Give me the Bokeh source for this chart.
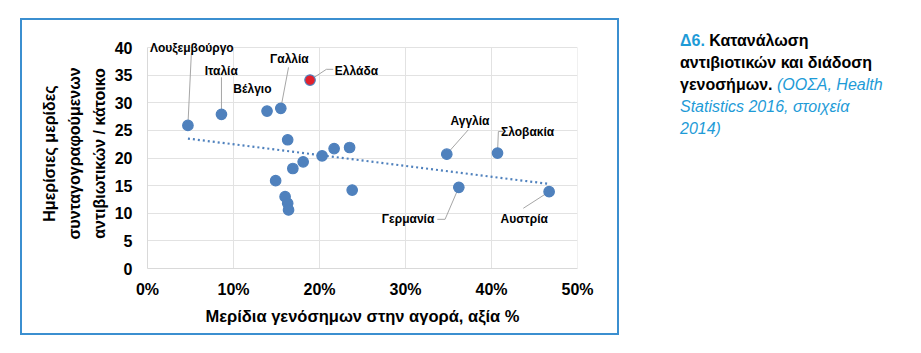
import numpy as np
from bokeh.plotting import figure
from bokeh.layouts import row
from bokeh.models import Range1d, Label, FixedTicker, PrintfTickFormatter, Div
from bokeh.embed import file_html
from bokeh.resources import INLINE

# ---- data ----
generic_share = [4.7, 8.6, 13.9, 15.5, 18.9, 16.3, 21.7, 23.5, 14.9, 16.0,
                 16.3, 16.4, 16.9, 18.1, 20.3, 23.8, 34.8, 40.7, 36.2, 46.7]
daily_doses = [25.9, 27.9, 28.5, 29.0, 34.1, 23.3, 21.7, 21.9, 15.9, 13.0,
               11.8, 10.6, 18.1, 19.3, 20.4, 14.2, 20.7, 20.9, 14.7, 13.9]
country = ["Λουξεμβούργο", "Ιταλία", "Βέλγιο", "Γαλλία", "Ελλάδα", "", "", "", "", "",
           "", "", "", "", "", "", "Αγγλία", "Σλοβακία", "Γερμανία", "Αυστρία"]
highlight = "Ελλάδα"
x_ticks = [0, 10, 20, 30, 40, 50]
y_ticks = [0, 5, 10, 15, 20, 25, 30, 35, 40]

x_title = "Μερίδια γενόσημων στην αγορά, αξία %"
y_title = "Ημερίσιες μερίδες\nσυνταγογραφούμενων\nαντιβιωτικών / κάτοικο"

# label layout: text centre (data units) and leader-line elbow points
label_pos = {
    "Λουξεμβούργο": ((5.15, 39.85), [(5.1, 39.0)]),
    "Ιταλία": ((8.57, 35.7), [(8.6, 34.6)]),
    "Βέλγιο": ((12.2, 32.4), []),
    "Γαλλία": ((16.5, 37.9), [(16.4, 36.4)]),
    "Ελλάδα": ((24.3, 35.8), [(21.6, 36.05), (20.8, 36.05)]),
    "Αγγλία": ((37.5, 26.7), [(37.3, 25.1)]),
    "Σλοβακία": ((44.2, 24.7), [(41.4, 24.8), (40.8, 24.8)]),
    "Γερμανία": ((30.3, 8.9), [(33.7, 8.9), (34.6, 8.9)]),
    "Αυστρία": ((43.8, 8.9), [(43.7, 10.9)]),
}

FONT = "Liberation Sans"
BLUE = "#4F81BD"
TITLE_BLUE = "#1E9BD7"
GRID = "#e2e2e2"

PW, PH = 595, 313
p = figure(width=PW, height=PH, output_backend="svg", toolbar_location=None,
           x_range=Range1d(0, 50), y_range=Range1d(0, 40 * 230 / 221),
           min_border_left=125, min_border_right=40, min_border_top=18, min_border_bottom=65)
p.margin = (20, 0, 0, 22)
p.styles = {"outline": "2.5px solid #3B8FD0"}
p.outline_line_color = None
p.background_fill_color = "white"
p.border_fill_color = "white"

for ax in (p.xaxis[0], p.yaxis[0]):
    ax.axis_line_color = "#d9d9d9"
    ax.major_tick_line_color = None
    ax.minor_tick_line_color = None
    ax.major_label_text_font = FONT
    ax.major_label_text_font_style = "bold"
    ax.major_label_text_font_size = "16px"
    ax.major_label_text_color = "#000000"
    ax.axis_label_text_font = FONT
    ax.axis_label_text_font_style = "bold"
    ax.axis_label_text_font_size = "16px"
    ax.axis_label_text_color = "#000000"
p.yaxis.axis_label_text_line_height = 1.45
p.xaxis.axis_label_text_font_size = "16.5px"
p.xaxis.ticker = FixedTicker(ticks=x_ticks)
p.yaxis.ticker = FixedTicker(ticks=y_ticks)
p.yaxis.bounds = (0, 40)
p.xaxis.formatter = PrintfTickFormatter(format="%d%%")
p.xaxis.major_label_standoff = 6
p.yaxis.major_label_standoff = 9
p.xaxis.axis_label = x_title
p.yaxis.axis_label = y_title
p.xaxis.axis_label_standoff = 6
p.yaxis.axis_label_standoff = 4
p.xgrid.visible = False
p.ygrid.ticker = FixedTicker(ticks=y_ticks)
p.ygrid.grid_line_color = GRID
# vertical grid lines limited to the 0-40 value range (also forms right border)
p.segment(x0=x_ticks, y0=[y_ticks[0]] * len(x_ticks), x1=x_ticks, y1=[y_ticks[-1]] * len(x_ticks),
          line_color=GRID, line_width=1)

# trend line (linear fit of the data)
xs = np.array(generic_share)
ys = np.array(daily_doses)
k, c = np.polyfit(xs, ys, 1)
tx = np.array([xs.min(), xs.max()])
p.line(tx, k * tx + c, line_color=BLUE, line_width=2.2, line_dash="2 3")

# leader lines
for name, (tc, elbows) in label_pos.items():
    i = country.index(name)
    if elbows:
        lx = [e[0] for e in elbows] + [generic_share[i]]
        ly = [e[1] for e in elbows] + [daily_doses[i]]
        p.line(lx, ly, line_color="#a6a6a6", line_width=1)

# points
fill = ["#E3202B" if n == highlight else BLUE for n in country]
p.scatter(generic_share, daily_doses, size=10.5, fill_color=fill, line_color=BLUE, line_width=1.2)

for name, (tc, elbows) in label_pos.items():
    p.add_layout(Label(x=tc[0], y=tc[1], text=name, text_font=FONT, text_font_style="bold",
                       text_font_size="12px", text_color="#000000",
                       text_align="center", text_baseline="middle"))

caption_html = (
    f'<div style="font-family:\'{FONT}\';font-size:16px;line-height:22px;color:#000;white-space:nowrap">'
    f'<span style="color:{TITLE_BLUE};font-weight:bold">Δ6.</span> <b>Κατανάλωση</b><br>'
    f'<b>αντιβιοτικών και διάδοση</b><br>'
    f'<b>γενοσήμων.</b> <i style="color:{TITLE_BLUE}">(ΟΟΣΑ, Health</i><br>'
    f'<i style="color:{TITLE_BLUE}">Statistics 2016, στοιχεία</i><br>'
    f'<i style="color:{TITLE_BLUE}">2014)</i></div>'
)
cap = Div(text=caption_html, width=240, height=140)
cap.margin = (30, 0, 0, 63)

layout = row(p, cap)
open("out.html", "w").write(file_html(layout, INLINE))
